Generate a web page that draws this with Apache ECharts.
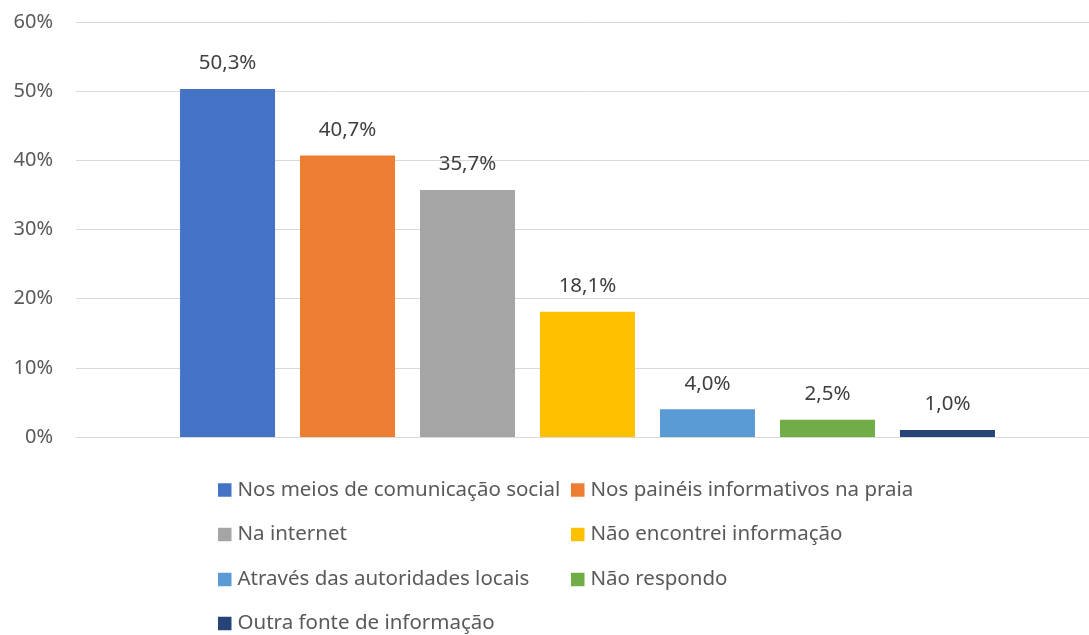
<!DOCTYPE html>
<html><head><meta charset="utf-8">
<script src="https://cdn.jsdelivr.net/npm/echarts@6/dist/echarts.min.js"></script>
<style>html,body{margin:0;padding:0;background:#fff;overflow:hidden;width:1089px;height:635px}#c{width:1110px;height:635px}</style>
</head><body><div id="c"></div>
<script>
const categories = [''];
const seriesNames = [
  'Nos meios de comunicação social',
  'Nos painéis informativos na praia',
  'Na internet',
  'Não encontrei informação',
  'Através das autoridades locais',
  'Não respondo',
  'Outra fonte de informação'
];
const seriesValues = [50.3, 40.7, 35.7, 18.1, 4.0, 2.5, 1.0];
const seriesColors = ['#4472C4', '#ED7D31', '#A5A5A5', '#FFC000', '#5B9BD5', '#70AD47', '#264478'];
const yTicks = [0, 10, 20, 30, 40, 50, 60];

const FONT = 'Noto Sans';
const chart = echarts.init(document.getElementById('c'), null, {renderer: 'canvas'});
const series = seriesNames.map((n, i) => ({
  name: n,
  type: 'bar',
  data: [seriesValues[i]],
  barWidth: 95,
  barGap: '26.3%',
  itemStyle: {color: seriesColors[i]},
  label: {
    show: true, position: 'top', distance: 15,
    color: '#404040', fontFamily: FONT, fontSize: 20.5,
    formatter: p => p.value.toFixed(1).replace('.', ',') + '%'
  }
}));
// legend grid: two columns, four rows
const legendCols = [218, 571];
const legendRows = [479.5, 524, 569, 613];
const legends = seriesNames.map((n, i) => ({
  orient: 'horizontal', itemWidth: 13.5, itemHeight: 13.5,
  icon: 'rect',
  left: legendCols[i % 2], top: legendRows[Math.floor(i / 2)],
  padding: 0,
  textStyle: {color: '#595959', fontFamily: FONT, fontSize: 20.5, padding: [0, 0, 0, 1]},
  data: [n]
}));
chart.setOption({
  animation: false,
  grid: {left: 76, right: 11, top: 22, bottom: 198},
  xAxis: {
    type: 'category', data: categories,
    axisLine: {show: true, lineStyle: {color: '#d9d9d9', width: 1}},
    axisTick: {show: false}, axisLabel: {show: false}
  },
  yAxis: {
    type: 'value', min: yTicks[0], max: yTicks[yTicks.length - 1], interval: 10,
    axisLine: {show: false}, axisTick: {show: false},
    splitLine: {lineStyle: {color: '#d9d9d9', width: 1}},
    axisLabel: {color: '#595959', fontFamily: FONT, fontSize: 20, margin: 23, formatter: v => v + '%'}
  },
  legend: legends,
  series: series
});
</script></body></html>
